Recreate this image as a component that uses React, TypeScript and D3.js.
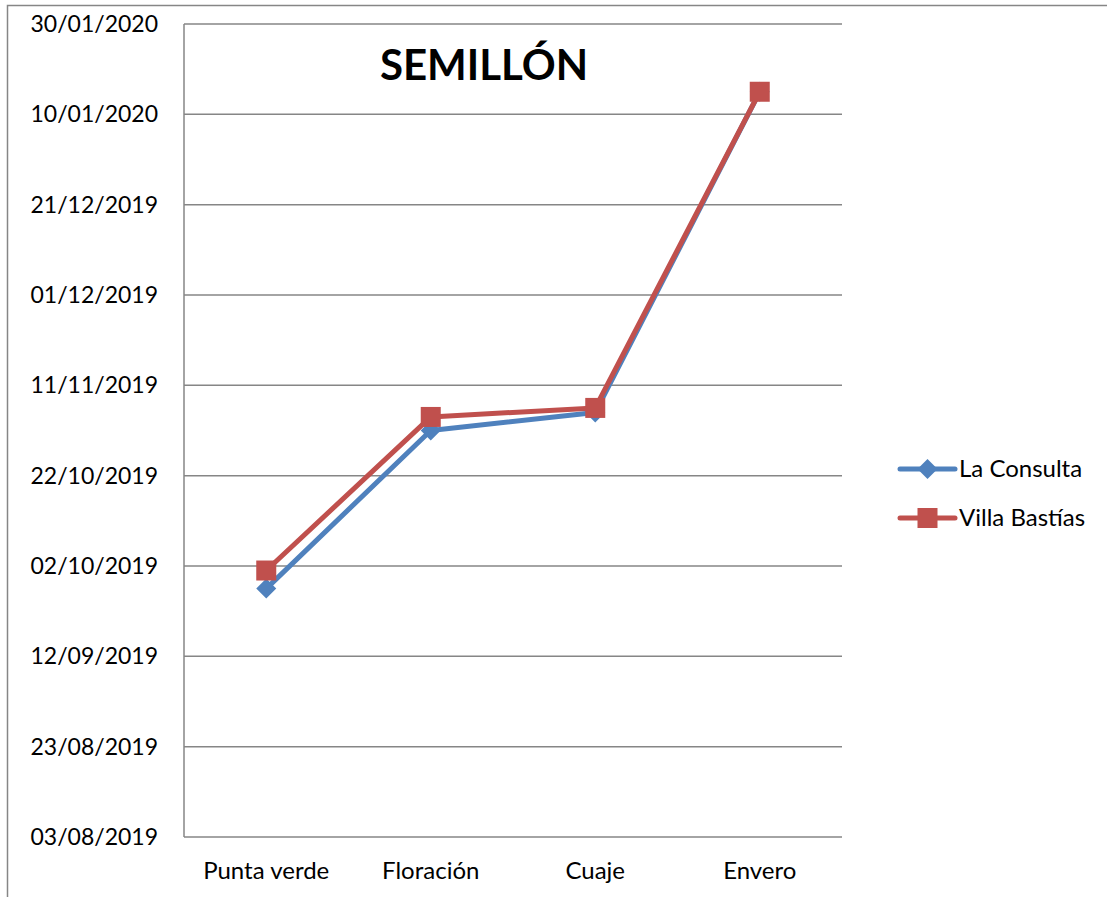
import React, { useEffect, useRef } from 'react';
import * as d3 from 'd3';

const categories = ['Punta verde', 'Floración', 'Cuaje', 'Envero'];
const laConsulta = ['27/09/2019', '01/11/2019', '05/11/2019', '15/01/2020'];
const villaBastias = ['01/10/2019', '04/11/2019', '06/11/2019', '15/01/2020'];
const yStart = '03/08/2019';
const yEnd = '30/01/2020';
const tickStepDays = 20;

const parse = d3.timeParse('%d/%m/%Y');
const fmt = d3.timeFormat('%d/%m/%Y');

const App: React.FC = () => {
  const svgRef = useRef<SVGSVGElement>(null);
  const width = 1107;
  const height = 897;

  useEffect(() => {
    document.body.style.margin = '0';
    if (!svgRef.current) return;
    const svg = d3.select(svgRef.current);
    svg.selectAll('*').remove();

    const font = 'Lato, "Open Sans", sans-serif';
    const margin = { top: 24, right: 265, bottom: 60, left: 184 };
    const innerWidth = width - margin.left - margin.right;
    const innerHeight = height - margin.top - margin.bottom;

    // outer chart border (runs off the right/bottom)
    svg.append('rect')
      .attr('x', 7.5).attr('y', 5.5)
      .attr('width', width + 20).attr('height', height + 20)
      .attr('fill', 'none').attr('stroke', '#868686').attr('stroke-width', 1.5);

    const g = svg.append('g').attr('transform', `translate(${margin.left},${margin.top})`);

    const x = d3.scaleBand<string>().domain(categories).range([0, innerWidth]);
    const y = d3.scaleTime()
      .domain([parse(yStart)!, parse(yEnd)!])
      .range([innerHeight, 0]);

    const tickValues = d3.timeDay.range(parse(yStart)!, d3.timeDay.offset(parse(yEnd)!, 1), 1)
      .filter((_, i) => i % tickStepDays === 0);

    // gridlines
    g.append('g')
      .selectAll('line')
      .data(tickValues)
      .join('line')
      .attr('x1', 0).attr('x2', innerWidth)
      .attr('y1', d => y(d)).attr('y2', d => y(d))
      .attr('stroke', '#868686').attr('stroke-width', 1.5);

    // axis line
    g.append('line')
      .attr('x1', 0).attr('x2', 0).attr('y1', 0).attr('y2', innerHeight)
      .attr('stroke', '#868686').attr('stroke-width', 1.5);

    // y labels
    g.append('g')
      .selectAll('text')
      .data(tickValues)
      .join('text')
      .attr('x', -26)
      .attr('y', d => y(d))
      .attr('dy', '0.35em')
      .attr('text-anchor', 'end')
      .attr('font-family', font)
      .attr('font-size', 23)
      .attr('fill', '#000')
      .text(d => fmt(d));

    // x labels
    g.append('g')
      .selectAll('text')
      .data(categories)
      .join('text')
      .attr('x', d => x(d)! + x.bandwidth() / 2)
      .attr('y', innerHeight + 34)
      .attr('dy', '0.35em')
      .attr('text-anchor', 'middle')
      .attr('font-family', font)
      .attr('font-size', 24)
      .attr('fill', '#000')
      .text(d => d);

    const series = [
      { name: 'La Consulta', values: laConsulta, color: '#4F81BD', marker: 'diamond' },
      { name: 'Villa Bastías', values: villaBastias, color: '#C0504D', marker: 'square' },
    ];

    const line = d3.line<[string, Date]>()
      .x(d => x(d[0])! + x.bandwidth() / 2)
      .y(d => y(d[1]));

    const drawMarker = (sel: d3.Selection<SVGGElement, unknown, null, undefined>, kind: string, color: string) => {
      if (kind === 'square') {
        sel.append('rect').attr('x', -10).attr('y', -10).attr('width', 20).attr('height', 20).attr('fill', color);
      } else {
        sel.append('path').attr('d', 'M0,-10L10,0L0,10L-10,0Z').attr('fill', color);
      }
    };

    series.forEach(s => {
      const pts: [string, Date][] = categories.map((c, i) => [c, parse(s.values[i])!]);
      g.append('path')
        .datum(pts)
        .attr('fill', 'none')
        .attr('stroke', s.color)
        .attr('stroke-width', 5)
        .attr('stroke-linejoin', 'round')
        .attr('d', line);
      pts.forEach(p => {
        const m = g.append('g').attr('transform', `translate(${x(p[0])! + x.bandwidth() / 2},${y(p[1])})`);
        drawMarker(m as any, s.marker, s.color);
      });
    });

    // title
    svg.append('text')
      .attr('x', 484).attr('y', 80)
      .attr('text-anchor', 'middle')
      .attr('font-family', font)
      .attr('font-weight', 'bold')
      .attr('font-size', 42)
      .attr('fill', '#000')
      .text('SEMILLÓN');

    // legend
    const legend = svg.append('g').attr('transform', 'translate(900, 469)');
    series.forEach((s, i) => {
      const row = legend.append('g').attr('transform', `translate(0, ${i * 49})`);
      row.append('line')
        .attr('x1', 0).attr('x2', 55)
        .attr('stroke', s.color).attr('stroke-width', 5).attr('stroke-linecap', 'round');
      const m = row.append('g').attr('transform', 'translate(27.5,0)');
      drawMarker(m as any, s.marker, s.color);
      row.append('text')
        .attr('x', 59).attr('y', 0).attr('dy', '0.35em')
        .attr('font-family', font).attr('font-size', 24).attr('fill', '#000')
        .text(s.name);
    });
  }, []);

  return <svg ref={svgRef} width={width} height={height} style={{ display: 'block', background: '#fff' }} />;
};

export default App;
